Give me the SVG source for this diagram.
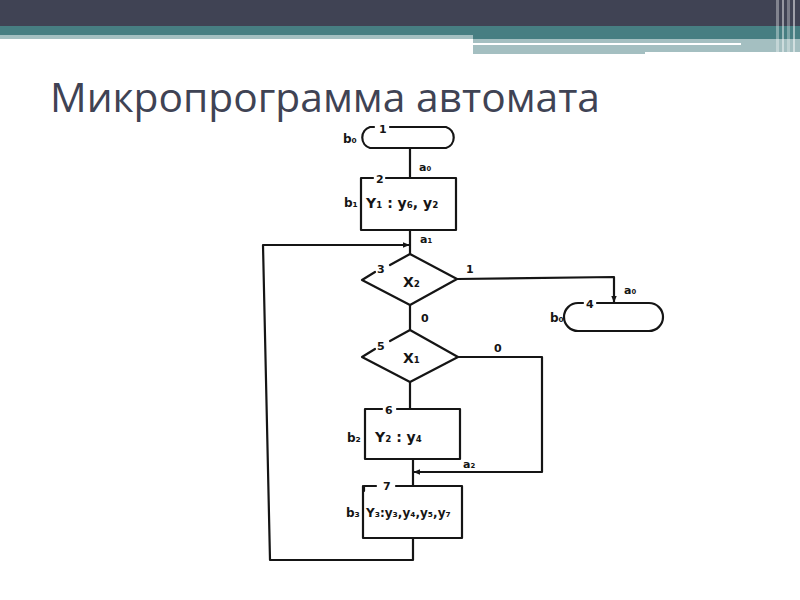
<svg xmlns="http://www.w3.org/2000/svg" width="800" height="600" viewBox="0 0 800 600">
<style>
.ln{fill:none;stroke:#151515;stroke-width:2.2;stroke-linejoin:round;stroke-linecap:round}
.hw{font-family:"DejaVu Sans",sans-serif;fill:#151515;font-weight:bold}
.lb{font-size:11px}
.bl{font-size:12px}
.tx{font-size:14px}
</style>
<defs>
<marker id="ah" viewBox="0 0 10 10" refX="9" refY="5" markerWidth="7" markerHeight="7" orient="auto" markerUnits="userSpaceOnUse">
<path d="M0,1 L10,5 L0,9 Z" fill="#151515"/>
</marker>
</defs>
<rect width="800" height="600" fill="#ffffff"/>
<g id="header">
<rect x="0" y="0" width="800" height="26" fill="#404354"/>
<rect x="0" y="26" width="800" height="9" fill="#477e82"/>
<rect x="473" y="35" width="327" height="4" fill="#477e82"/>
<rect x="0" y="35" width="473" height="4" fill="#a4bfc1"/>
<rect x="473" y="39" width="327" height="13" fill="#a4bfc1"/>
<rect x="473" y="52" width="172" height="2" fill="#a4bfc1"/>
<rect x="473" y="43" width="268" height="2" fill="#ffffff"/>
<rect x="776" y="0" width="3" height="54" fill="#ffffff" opacity="0.35"/>
<rect x="782" y="0" width="2" height="54" fill="#ffffff" opacity="0.45"/>
<rect x="787" y="0" width="3" height="54" fill="#ffffff" opacity="0.3"/>
<rect x="793" y="0" width="2" height="54" fill="#ffffff" opacity="0.5"/>
</g>
<text x="50" y="112" font-family="Open Sans, sans-serif" font-size="40" fill="#3f4354" textLength="550" lengthAdjust="spacingAndGlyphs">Микропрограмма автомата</text>
<g id="connectors">
<path class="ln" d="M410,148 V178"/>
<path class="ln" d="M410,230 V254"/>
<path class="ln" d="M410,305 V330"/>
<path class="ln" d="M410,382 V409"/>
<path class="ln" d="M413,459 V486"/>
<path class="ln" d="M457,279 L614,277 V302" marker-end="url(#ah)"/>
<path class="ln" d="M458,357 H542 V472 H414" marker-end="url(#ah)"/>
<path class="ln" d="M413,538 V560 H270 L263,245 H409" marker-end="url(#ah)"/>
<text class="hw lb" x="419" y="171">a₀</text>
<text class="hw lb" x="420" y="243">a₁</text>
<text class="hw lb" x="466" y="273">1</text>
<text class="hw lb" x="624" y="294">a₀</text>
<text class="hw lb" x="421" y="322">0</text>
<text class="hw lb" x="494" y="352">0</text>
<text class="hw lb" x="463" y="468">a₂</text>
</g>
<g id="n1">
<path class="ln" d="M374,127 H370 A11,11 0 0 0 370,148 H446 A11,11 0 0 0 446,127 H390"/>
<text class="hw lb" x="379" y="133">1</text>
<text class="hw bl" x="343" y="143">b₀</text>
</g>
<g id="n2">
<path class="ln" d="M373,178 H361 V230 H456 V178 H386"/>
<text class="hw lb" x="376" y="183">2</text>
<text class="hw bl" x="344" y="207">b₁</text>
<text class="hw tx" x="366" y="208">Y₁ : y₆, y₂</text>
</g>
<g id="n3">
<path class="ln" d="M375,272 L362,280 L410,305 L457,279 L410,254 L390,265"/>
<text class="hw lb" x="377" y="273">3</text>
<text class="hw tx" x="403" y="287">X₂</text>
</g>
<g id="n4">
<path class="ln" d="M583,303 H578 A14,14 0 0 0 578,331 H649 A14,14 0 0 0 649,303 H597"/>
<text class="hw lb" x="586" y="308">4</text>
<text class="hw bl" x="550" y="322">b₀</text>
</g>
<g id="n5">
<path class="ln" d="M375,349 L362,357 L410,382 L458,357 L410,330 L390,341"/>
<text class="hw lb" x="377" y="350">5</text>
<text class="hw tx" x="403" y="363">X₁</text>
</g>
<g id="n6">
<path class="ln" d="M382,409 H365 V459 H460 V409 H397"/>
<text class="hw lb" x="385" y="414">6</text>
<text class="hw bl" x="347" y="442">b₂</text>
<text class="hw tx" x="375" y="442">Y₂ :  y₄</text>
</g>
<g id="n7">
<path class="ln" d="M364,491 V486 H376 M396,486 H462 V538 H363 V486"/>
<text class="hw lb" x="383" y="490">7</text>
<text class="hw bl" x="346" y="517">b₃</text>
<text class="hw" font-size="12" x="366" y="517">Y₃:y₃,y₄,y₅,y₇</text>
</g>
</svg>
